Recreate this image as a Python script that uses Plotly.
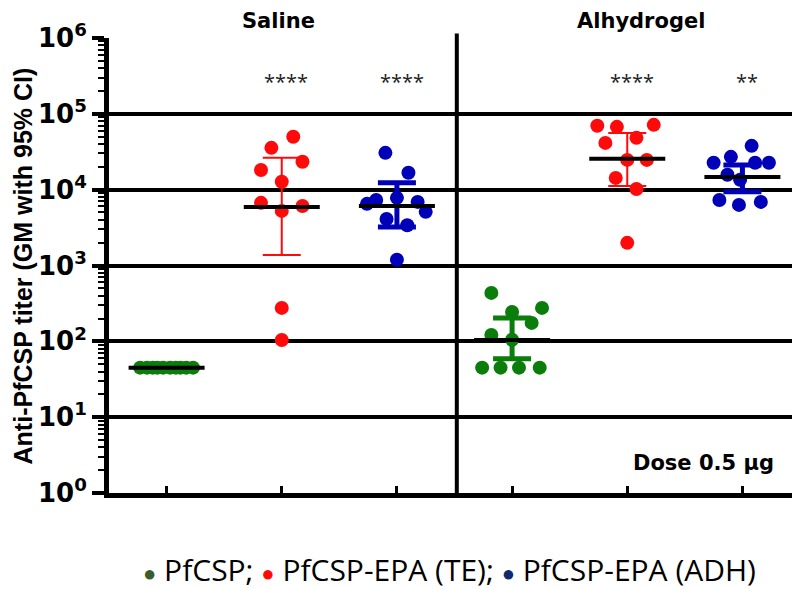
import plotly.graph_objects as go

# groups, left to right
groups = ['Saline PfCSP', 'Saline PfCSP-EPA (TE)', 'Saline PfCSP-EPA (ADH)',
          'Alhydrogel PfCSP', 'Alhydrogel PfCSP-EPA (TE)', 'Alhydrogel PfCSP-EPA (ADH)']

# individual titers per group
saline_pfcsp = [45, 45, 45, 45, 45, 45, 45, 45, 45, 45]
saline_te = [49800, 35600, 23300, 18200, 12700, 6700, 6100, 5250, 276, 104]
saline_adh = [30600, 16700, 7300, 6500, 6900, 5100, 4100, 3400, 1190, 7800]
alum_pfcsp = [435, 276, 244, 175, 121, 45, 45, 45, 45, 105]
alum_te = [69500, 67400, 71600, 41400, 48200, 24700, 24700, 14300, 10200, 1990]
alum_adh = [37800, 27100, 22600, 22600, 22600, 15700, 13500, 7300, 6300, 6900]

# geometric means and 95% CI
gm = [45, 5900, 6100, 104, 25500, 14700]
ci_lo = [45, 1380, 3230, 59, 11200, 9400]
ci_hi = [45, 26300, 12300, 203, 56000, 21200]

stars = ['', '****', '****', '', '****', '**']

# horizontal spread of the dots (category units)
spread = [
    [-0.23, -0.17, -0.12, -0.08, -0.03, 0.03, 0.08, 0.12, 0.17, 0.23],
    [0.1, -0.09, 0.18, -0.18, 0, -0.18, 0.18, 0, 0, 0],
    [-0.1, 0.1, -0.18, -0.26, 0.18, 0.25, -0.09, 0.09, 0, 0],
    [-0.18, 0.26, 0, 0.17, -0.18, -0.26, -0.1, 0.06, 0.24, 0],
    [-0.26, -0.09, 0.23, -0.19, 0.08, 0, 0.17, -0.1, 0.08, 0],
    [0.08, -0.1, -0.25, 0.11, 0.23, -0.13, -0.02, -0.2, -0.03, 0.16],
]

green, red, blue = '#0B7D0B', '#FF0A0A', '#0000B8'
colors = [green, red, blue, green, red, blue]
bar_width = [4, 2, 5, 5, 2, 5]
series = [saline_pfcsp, saline_te, saline_adh, alum_pfcsp, alum_te, alum_adh]

fig = go.Figure()

for i, vals in enumerate(series):
    fig.add_trace(go.Scatter(x=[i + d for d in spread[i]], y=vals, mode='markers',
                             marker=dict(color=colors[i], size=14), name=groups[i],
                             showlegend=False))

for i in range(len(groups)):
    if ci_hi[i] > ci_lo[i]:
        fig.add_trace(go.Scatter(x=[i], y=[gm[i]], mode='markers',
                                 marker=dict(size=1, color='rgba(0,0,0,0)'),
                                 error_y=dict(type='data', symmetric=False,
                                              array=[ci_hi[i] - gm[i]],
                                              arrayminus=[gm[i] - ci_lo[i]],
                                              color=colors[i], thickness=bar_width[i], width=19),
                                 showlegend=False))
    fig.add_trace(go.Scatter(x=[i - 0.33, i + 0.33], y=[gm[i], gm[i]], mode='lines',
                             line=dict(color='black', width=4), showlegend=False))

decades = [1, 10, 100, 1000, 10000, 100000, 1000000]

# page body adds an 8px offset, so the figure is drawn 8px smaller
fig.update_layout(
    width=792, height=581, autosize=False,
    margin=dict(l=101, r=0, t=30, b=96),
    plot_bgcolor='white', paper_bgcolor='white', showlegend=False,
    xaxis=dict(range=[-0.5, 5.5], showgrid=False, zeroline=False, showline=True,
               linecolor='black', linewidth=5, ticks='inside', ticklen=7, tickwidth=3,
               tickcolor='black', tickvals=list(range(6)), showticklabels=False),
    yaxis=dict(type='log', range=[0, 6], showgrid=True, gridcolor='black', gridwidth=4,
               zeroline=False, showline=True, linecolor='black', linewidth=5,
               ticks='outside', ticklen=12, tickwidth=4, tickcolor='black',
               tickvals=decades, ticktext=['10<sup>%d</sup>' % d for d in range(7)],
               tickfont=dict(family='DejaVu Sans', size=26, color='black', weight='bold'),
               minor=dict(dtick='D1', ticks='outside', ticklen=6, tickwidth=2,
                          tickcolor='black', showgrid=False)),
)

fig.add_shape(type='line', xref='x', yref='paper', x0=2.52, x1=2.52, y0=0, y1=1.01,
              line=dict(color='black', width=4))

fig.add_annotation(text='<b>Saline</b>', xref='x', yref='paper', x=0.97, y=1.037,
                   yanchor='middle', showarrow=False,
                   font=dict(family='DejaVu Sans', size=21, color='black'))
fig.add_annotation(text='<b>Alhydrogel</b>', xref='x', yref='paper', x=4.12, y=1.037,
                   yanchor='middle', showarrow=False,
                   font=dict(family='DejaVu Sans', size=21, color='black'))

for i, s in enumerate(stars):
    if s:
        fig.add_annotation(text=s, xref='x', yref='y', x=i + 0.04, y=5.42, showarrow=False,
                           font=dict(family='Open Sans', size=20, color='#222222'))

fig.add_annotation(text='<b>Dose 0.5 µg</b>', xref='paper', yref='y', x=0.965, y=0.4,
                   xanchor='right', showarrow=False,
                   font=dict(family='DejaVu Sans', size=21, color='black'))

fig.add_annotation(text='<b>Anti-PfCSP titer (GM with 95% CI)</b>', textangle=-90,
                   xref='paper', yref='paper', x=-0.1245, y=0.5, xanchor='center',
                   yanchor='middle', showarrow=False,
                   font=dict(family='Liberation Sans', size=25, color='black'))

legend_text = ('<span style="color:#3A5E2A;font-size:22px">●</span> PfCSP; '
               '<span style="color:#FF0A0A;font-size:22px">●</span> PfCSP-EPA (TE); '
               '<span style="color:#0D2A6E;font-size:22px">●</span> PfCSP-EPA (ADH)')
fig.add_annotation(text=legend_text, xref='paper', yref='paper', x=0.493, y=-0.168,
                   yanchor='middle', showarrow=False,
                   font=dict(family='Open Sans', size=30, color='black'))

fig.write_html('out.html')
